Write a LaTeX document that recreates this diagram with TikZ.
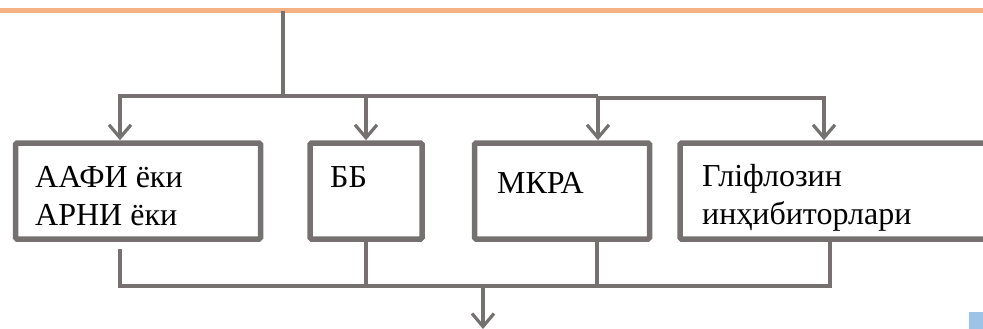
\documentclass[tikz,border=0pt]{standalone}
\usepackage{fontspec}
\setmainfont{Liberation Serif}
\usetikzlibrary{arrows.meta, positioning}

\definecolor{wiregray}{HTML}{767171}
\definecolor{peach}{HTML}{F4B183}
\definecolor{skyblue}{HTML}{9DC3E6}

\begin{document}
\begin{tikzpicture}[
    x=1pt, y=-1pt,
    box/.style={draw=wiregray, line width=5.5pt, rounded corners=1.5pt, inner sep=0pt, minimum height=96pt},
    label text/.style={anchor=base west, align=left, inner sep=0pt, font=\fontsize{32}{38}\selectfont},
    wire/.style={draw=wiregray, line width=3.2pt},
    arr/.style={wire, -{Straight Barb[length=13pt, width=22pt]}}
]
\useasboundingbox (0,0) rectangle (983,329);

% Top band
\fill[peach] (0,8) rectangle (983,13);

% Boxes
\node[box, minimum width=245pt] (aafi) at (138,191) {};
\node[box, minimum width=112pt] (bb) at (366,191) {};
\node[box, minimum width=175pt] (mkra) at (562,191) {};
\node[box, minimum width=330pt] (glif) at (845,191) {};

% Box texts (base = last line)
\node[label text] (aafitext) at (35,225) {ААФИ ёки\\АРНИ ёки};
\node[label text] (bbtext) at (330,187) {ББ};
\node[label text] (mkratext) at (497,193) {МКРА};
\node[label text] (gliftext) at (702,224) {Гл\symbol{"0456}флозин\\инҳибиторлари};

% Upper branching
\coordinate (trunk) at (283,11);
\coordinate (busL) at (120,96);
\coordinate (busM) at (598,96);
\coordinate (busR) at (824,98);
\draw[wire, line width=4pt] (trunk) -- (trunk |- busL);
\draw[wire] ([xshift=-1.6pt]busL) -- (busM);
\draw[wire] (busM |- busR) -- ([xshift=1.6pt]busR);
\draw[arr] (busL) -- (busL |- aafi.north);
\draw[arr] (bb.north |- busL) -- (bb.north);
\draw[arr] (busM) -- (busM |- mkra.north);
\draw[arr] (busR) -- (busR |- glif.north);

% Lower collecting
\coordinate (outL) at (120,286);
\coordinate (outM) at (597,286);
\coordinate (outR) at (830,286);
\coordinate (outD) at (483,286);
\coordinate (outEnd) at (483,329);
\draw[wire] ([yshift=-7pt]aafi.south -| outL) -- (outL) -- (outR) -- (outR |- glif.south);
\draw[wire] (bb.south) -- (bb.south |- outL);
\draw[wire] (outM |- mkra.south) -- (outM);
\draw[arr] (outD) -- (outEnd);

% Corner mark
\fill[skyblue] (969,312) rectangle (983,329);

\end{tikzpicture}
\end{document}
